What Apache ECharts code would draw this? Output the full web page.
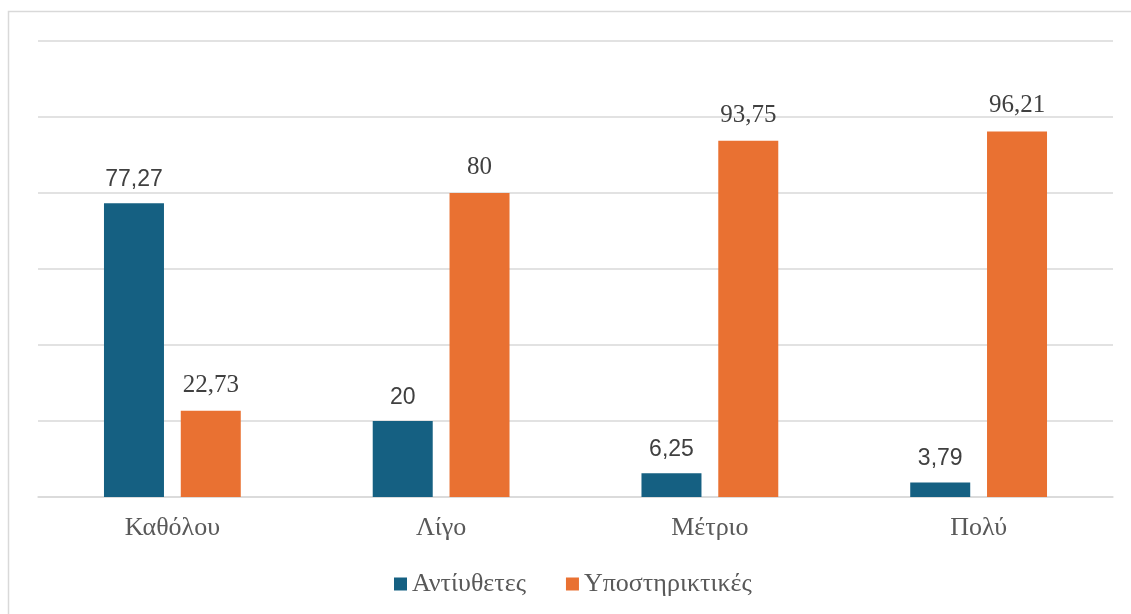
<!DOCTYPE html>
<html><head><meta charset="utf-8">
<script src="https://cdn.jsdelivr.net/npm/echarts@6/dist/echarts.min.js"></script>
<style>html,body{margin:0;padding:0;background:#fff}#c{width:1131px;height:614px}</style>
</head><body><div id="c"></div>
<script>
const categories = ['Καθόλου', 'Λίγο', 'Μέτριο', 'Πολύ'];
const seriesNames = ['Αντίυθετες', 'Υποστηρικτικές'];
const opposed = [77.27, 20, 6.25, 3.79];
const supportive = [22.73, 80, 93.75, 96.21];
const fmt = v => String(v.value).replace('.', ',');
const SERIF = 'Liberation Serif, Times New Roman, serif';
const SANS = 'Liberation Sans, Arial, sans-serif';
const chart = echarts.init(document.getElementById('c'));
chart.setOption({
  animation: false,
  backgroundColor: '#fff',
  graphic: [{type: 'rect', shape: {x: 8.5, y: 11.5, width: 1200, height: 700}, style: {fill: 'none', stroke: '#d9d9d9', lineWidth: 1.5}, z: -1}],
  grid: {left: 38, right: 18, top: 41, bottom: 117},
  legend: {
    data: seriesNames, bottom: 12, left: 389, itemWidth: 13, itemHeight: 13, itemGap: 40, icon: 'rect',
    textStyle: {color: '#595959', fontSize: 26, fontFamily: SERIF}
  },
  xAxis: {
    type: 'category', data: categories,
    axisLine: {lineStyle: {color: '#d9d9d9', width: 1.5}}, axisTick: {show: false},
    axisLabel: {color: '#595959', fontSize: 26, margin: 18, fontFamily: SERIF}
  },
  yAxis: {
    type: 'value', min: 0, max: 120, interval: 20,
    axisLabel: {show: false}, axisLine: {show: false}, axisTick: {show: false},
    splitLine: {lineStyle: {color: '#d9d9d9', width: 1.5}}
  },
  series: [
    {name: seriesNames[0], type: 'bar', data: opposed, barWidth: 60, barGap: '28%', itemStyle: {color: '#156082'},
     label: {show: true, position: 'top', distance: 12, formatter: fmt, color: '#404040', fontSize: 23, fontFamily: SANS}},
    {name: seriesNames[1], type: 'bar', data: supportive, barWidth: 60, itemStyle: {color: '#E97132'},
     label: {show: true, position: 'top', distance: 13, formatter: fmt, color: '#404040', fontSize: 25, fontFamily: SERIF}}
  ]
});
</script></body></html>
